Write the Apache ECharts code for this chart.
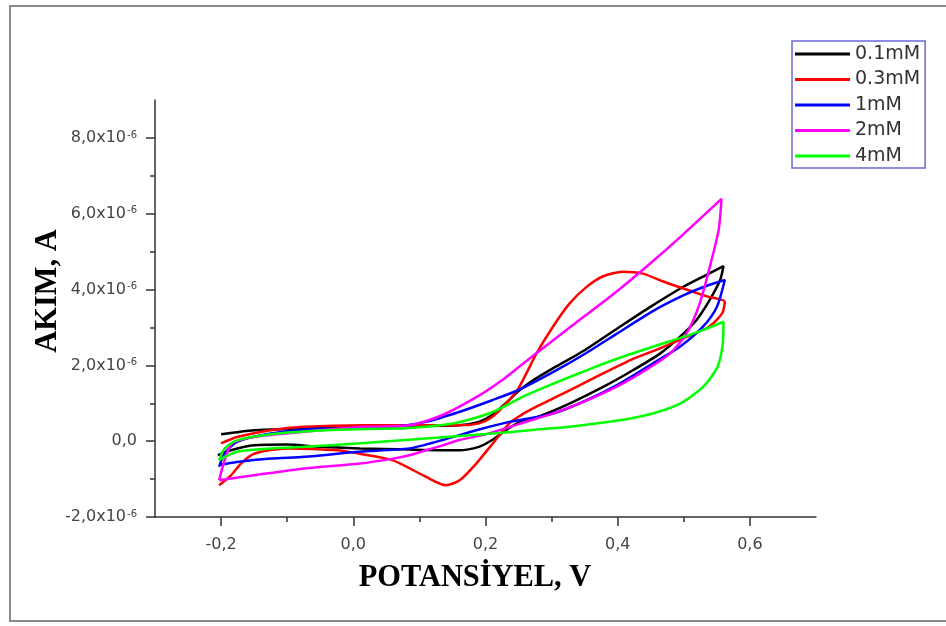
<!DOCTYPE html>
<html><head><meta charset="utf-8">
<script src="https://cdn.jsdelivr.net/npm/echarts@6/dist/echarts.min.js"></script>
<style>html,body{margin:0;padding:0;background:#fff}#c{width:946px;height:626px}</style>
</head><body><div id="c"></div>
<script>
// ---- labels / ticks ----
const seriesNames = ['0.1mM', '0.3mM', '1mM', '2mM', '4mM'];
const xTickValues = [-0.2, 0, 0.2, 0.4, 0.6];
const xMinorValues = [-0.1, 0.1, 0.3, 0.5];
const yTickValues = [-2, 0, 2, 4, 6, 8];
const yMinorValues = [-1, 1, 3, 5, 7];
const xTitle = 'POTANSİYEL, V';
const yTitle = 'AKIM, A';

// ---- data: potential (V) and current (x10^-6 A), forward scan then return scan ----
const E_01 = [-0.2, -0.15, -0.075, 0.02, 0.085, 0.16, 0.19, 0.21, 0.23, 0.25, 0.267, 0.3, 0.35, 0.4, 0.45, 0.5, 0.53, 0.56,
  0.555, 0.539, 0.519, 0.494, 0.464, 0.423, 0.378, 0.327, 0.282, 0.25, 0.231, 0.21, 0.19, 0.16, 0.085, 0.01, -0.05, -0.1, -0.15, -0.185, -0.205];
const I_01 = [0.18, 0.29, 0.33, 0.38, 0.40, 0.42, 0.51, 0.69, 0.99, 1.32, 1.55, 1.9, 2.4, 2.98, 3.55, 4.08, 4.35, 4.62,
  4.25, 3.72, 3.19, 2.75, 2.31, 1.87, 1.43, 0.99, 0.66, 0.49, 0.29, 0.03, -0.15, -0.24, -0.22, -0.19, -0.15, -0.09, -0.11, -0.24, -0.37];

const E_03 = [-0.2, -0.176, -0.125, -0.074, 0.017, 0.16, 0.19, 0.21, 0.231, 0.25, 0.277, 0.302, 0.327, 0.353, 0.378, 0.408, 0.438, 0.468, 0.504, 0.535, 0.562,
  0.558, 0.538, 0.504, 0.464, 0.419, 0.368, 0.318, 0.277, 0.255, 0.236, 0.211, 0.186, 0.161, 0.14, 0.11, 0.059, 0.009, -0.024, -0.1, -0.15, -0.17, -0.185, -0.203];
const I_03 = [-0.06, 0.11, 0.29, 0.38, 0.42, 0.42, 0.47, 0.64, 0.99, 1.4, 2.31, 3.02, 3.63, 4.07, 4.35, 4.47, 4.42, 4.22, 4.0, 3.82, 3.68,
  3.37, 3.02, 2.75, 2.45, 2.14, 1.70, 1.26, 0.91, 0.70, 0.47, -0.06, -0.59, -1.03, -1.16, -0.94, -0.50, -0.33, -0.24, -0.19, -0.33, -0.59, -0.9, -1.16];

const E_1 = [-0.203, -0.195, -0.176, -0.125, -0.05, 0.017, 0.059, 0.11, 0.16, 0.21, 0.25, 0.3, 0.35, 0.4, 0.45, 0.5, 0.535, 0.562,
  0.55, 0.529, 0.494, 0.453, 0.403, 0.353, 0.302, 0.25, 0.236, 0.186, 0.135, 0.085, 0.009, -0.074, -0.125, -0.176, -0.203];
const I_1 = [-0.68, -0.33, -0.02, 0.2, 0.33, 0.33, 0.38, 0.51, 0.77, 1.08, 1.35, 1.8, 2.3, 2.85, 3.4, 3.85, 4.1, 4.25,
  3.54, 3.02, 2.49, 2.05, 1.52, 1.08, 0.73, 0.55, 0.51, 0.29, 0.03, -0.19, -0.28, -0.41, -0.46, -0.55, -0.63];

const E_2 = [-0.203, -0.193, -0.183, -0.15, -0.074, 0.017, 0.085, 0.135, 0.19, 0.226, 0.25, 0.3, 0.35, 0.4, 0.45, 0.5, 0.557,
  0.553, 0.542, 0.524, 0.504, 0.479, 0.44, 0.4, 0.35, 0.3, 0.25, 0.2, 0.16, 0.135, 0.11, 0.085, 0.06, 0.01, -0.074, -0.15, -0.203];
const I_2 = [-1.03, -0.41, -0.05, 0.11, 0.25, 0.38, 0.42, 0.69, 1.2, 1.62, 1.95, 2.63, 3.3, 3.97, 4.7, 5.47, 6.39,
  5.6, 4.78, 3.63, 2.84, 2.31, 1.85, 1.45, 1.05, 0.72, 0.45, 0.18, 0.03, -0.11, -0.24, -0.37, -0.46, -0.59, -0.72, -0.9, -1.03];

const E_4 = [-0.203, -0.195, -0.176, -0.125, -0.05, 0.02, 0.085, 0.13, 0.16, 0.211, 0.26, 0.3, 0.353, 0.4, 0.453, 0.5, 0.529, 0.56,
  0.559, 0.551, 0.529, 0.494, 0.453, 0.403, 0.327, 0.267, 0.211, 0.11, 0.017, -0.074, -0.125, -0.176, -0.203];
const I_4 = [-0.5, -0.2, 0.02, 0.18, 0.28, 0.32, 0.35, 0.42, 0.5, 0.77, 1.2, 1.5, 1.87, 2.18, 2.49, 2.75, 2.93, 3.15,
  2.58, 1.96, 1.43, 0.99, 0.73, 0.55, 0.38, 0.29, 0.2, 0.07, -0.05, -0.15, -0.19, -0.28, -0.5];

const seriesE = [E_01, E_03, E_1, E_2, E_4];
const seriesI = [I_01, I_03, I_1, I_2, I_4];
const seriesColors = ['#000000', '#ff0000', '#0000ff', '#ff00ff', '#00ff00'];

const chart = echarts.init(document.getElementById('c'), null, {renderer: 'canvas'});
const axisColor = '#333';
const lblFont = 'DejaVu Sans';

const fmtY = v => {
  if (Math.abs(v) < 1e-9) return '{b|0,0}';
  return '{b|' + v.toFixed(1).replace('.', ',') + 'x10}{s|-6}';
};
const fmtX = v => (Math.abs(v) < 1e-9 ? '0,0' : v.toFixed(1).replace('.', ','));

const option = {
  animation: false,
  backgroundColor: '#ffffff',
  grid: {left: 155, right: 130, top: 100, bottom: 109, containLabel: false},
  legend: {
    orient: 'vertical', left: 792, top: 41,
    padding: [3, 5, 2, 3],
    itemWidth: 55, itemHeight: 3, itemGap: 5.5, icon: 'rect',
    borderColor: '#6a6ad8', borderWidth: 1.5,
    textStyle: {fontFamily: lblFont, fontSize: 19, color: '#333', lineHeight: 20},
    data: seriesNames
  },
  xAxis: [{
    type: 'value', min: -0.3, max: 0.7, position: 'bottom',
    axisLine: {show: true, onZero: false, lineStyle: {color: axisColor, width: 1.5}},
    axisTick: {show: true, length: 9, customValues: xTickValues, lineStyle: {color: axisColor, width: 1.5}},
    axisLabel: {show: true, customValues: xTickValues, margin: 20, formatter: fmtX,
      fontFamily: lblFont, fontSize: 16, color: '#444'},
    splitLine: {show: false}
  }, {
    type: 'value', min: -0.3, max: 0.7, position: 'bottom',
    axisLine: {show: false, onZero: false},
    axisTick: {show: true, length: 5, customValues: xMinorValues, lineStyle: {color: axisColor, width: 1.5}},
    axisLabel: {show: false},
    splitLine: {show: false}
  }],
  yAxis: [{
    type: 'value', min: -2, max: 9, position: 'left',
    axisLine: {show: true, onZero: false, lineStyle: {color: axisColor, width: 1.5}},
    axisTick: {show: true, length: 9, customValues: yTickValues, lineStyle: {color: axisColor, width: 1.5}},
    axisLabel: {show: true, customValues: yTickValues, margin: 18, formatter: fmtY,
      rich: {
        b: {fontFamily: lblFont, fontSize: 16, color: '#444'},
        s: {fontFamily: lblFont, fontSize: 10, color: '#444', verticalAlign: 'top', lineHeight: 10, padding: [0, 0, 10, 1]}
      }},
    splitLine: {show: false}
  }, {
    type: 'value', min: -2, max: 9, position: 'left',
    axisLine: {show: false, onZero: false},
    axisTick: {show: true, length: 5, customValues: yMinorValues, lineStyle: {color: axisColor, width: 1.5}},
    axisLabel: {show: false},
    splitLine: {show: false}
  }],
  graphic: [
    {type: 'rect', shape: {x: 10, y: 6, width: 960, height: 615}, style: {fill: 'none', stroke: '#8a8a8a', lineWidth: 2}, silent: true},
    {type: 'text', x: 475, y: 578, style: {text: xTitle, font: 'bold 32px "Liberation Serif"', fill: '#000', align: 'center', verticalAlign: 'middle'}, scaleX: 0.95},
    {type: 'text', x: 48, y: 291, rotation: Math.PI / 2, style: {text: yTitle, font: 'bold 32px "Liberation Serif"', fill: '#000', align: 'center', verticalAlign: 'middle'}, scaleX: 0.95}
  ],
  series: seriesNames.map((name, k) => ({
    name: name,
    type: 'line',
    xAxisIndex: 0, yAxisIndex: 0,
    showSymbol: false,
    smooth: 0.25,
    color: seriesColors[k],
    lineStyle: {color: seriesColors[k], width: 2.5},
    itemStyle: {color: seriesColors[k]},
    data: seriesE[k].map((e, j) => [e, seriesI[k][j]])
  }))
};
chart.setOption(option);
</script></body></html>
